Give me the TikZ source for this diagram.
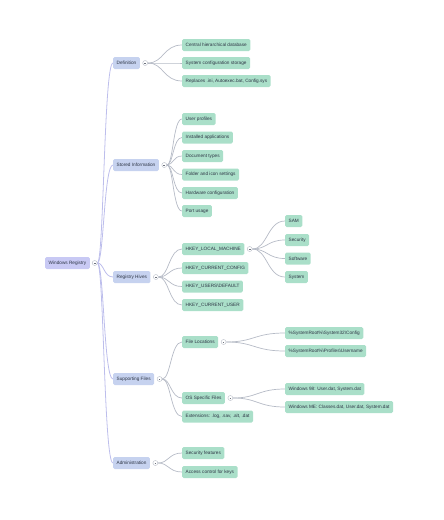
\documentclass[tikz,border=0pt]{standalone}
\usepackage{fontspec}
\setmainfont{Liberation Sans}
\usetikzlibrary{calc,positioning,backgrounds}
\definecolor{rootc}{HTML}{C8C9F4}
\definecolor{lvlc}{HTML}{C6D2EF}
\definecolor{leafc}{HTML}{AADFC9}
\definecolor{txtc}{HTML}{2E3646}
\definecolor{edgec}{HTML}{B6BBC6}
\definecolor{redgec}{HTML}{BDBEEC}
\begin{document}
\begin{tikzpicture}[x=1pt,y=-1pt,
  box/.style={rounded corners=1.5pt,minimum height=12pt,inner xsep=3.5pt,inner ysep=0pt,
    font=\fontsize{4.7}{5.5}\selectfont,text=txtc,anchor=west},
  rootbox/.style={box,fill=rootc},
  lvlbox/.style={box,fill=lvlc},
  leaf/.style={box,fill=leafc},
  tog/.style={circle,draw=edgec,fill=white,line width=0.4pt,minimum size=5pt,inner sep=0pt,
    path picture={\draw[txtc!70,line width=0.3pt] ([xshift=-0.8pt]path picture bounding box.center) -- ([xshift=0.8pt]path picture bounding box.center);}},
  conn/.style={line width=0.7pt,draw=edgec,to path={let \p1=(\tikztostart),\p2=(\tikztotarget),\p3=($(\p1)!0.5!(\p2)$) in .. controls (\x3,\y1) and (\x3,\y2) .. (\tikztotarget)}},
  rconn/.style={conn,draw=redgec,line width=0.8pt}]
\useasboundingbox (0,0) rectangle (444,520);
% root
\node[rootbox] (root) at (45,263) {Windows Registry};
\node[tog,right=2pt of root] (rootc) {};
% level 1
\node[lvlbox] (def) at (113,63) {Definition};
\node[tog,right=2.5pt of def] (defc) {};
\node[lvlbox] (sto) at (113,165) {Stored Information};
\node[tog,right=2.5pt of sto] (stoc) {};
\node[lvlbox] (hiv) at (113,277) {Registry Hives};
\node[tog,right=2.5pt of hiv] (hivc) {};
\node[lvlbox] (sup) at (113,379) {Supporting Files};
\node[tog,right=2.5pt of sup] (supc) {};
\node[lvlbox] (adm) at (113,463) {Administration};
\node[tog,right=2.5pt of adm] (admc) {};
% definition
\node[leaf] (d1) at (182,45) {Central hierarchical database};
\node[leaf] (d2) at (182,63) {System configuration storage};
\node[leaf] (d3) at (182,81) {Replaces .ini, Autoexec.bat, Config.sys};
% stored
\node[leaf] (s1) at (182,119) {User profiles};
\node[leaf] (s2) at (182,137.5) {Installed applications};
\node[leaf] (s3) at (182,156) {Document types};
\node[leaf] (s4) at (182,174.5) {Folder and icon settings};
\node[leaf] (s5) at (182,193) {Hardware configuration};
\node[leaf] (s6) at (182,211) {Port usage};
% hives
\node[leaf] (h1) at (182,249) {HKEY\_LOCAL\_MACHINE};
\node[tog,right=2.5pt of h1] (h1c) {};
\node[leaf] (h2) at (182,268) {HKEY\_CURRENT\_CONFIG};
\node[leaf] (h3) at (182,286.5) {HKEY\_USERS\textbackslash DEFAULT};
\node[leaf] (h4) at (182,305) {HKEY\_CURRENT\_USER};
\node[leaf] (k1) at (285,221) {SAM};
\node[leaf] (k2) at (285,240) {Security};
\node[leaf] (k3) at (285,258.5) {Software};
\node[leaf] (k4) at (285,277) {System};
% supporting
\node[leaf] (f1) at (182,342) {File Locations};
\node[tog,right=2.5pt of f1] (f1c) {};
\node[leaf] (f2) at (182,398) {OS Specific Files};
\node[tog,right=2.5pt of f2] (f2c) {};
\node[leaf] (f3) at (182,416.5) {Extensions: .log, .sav, .alt, .dat};
\node[leaf] (l1) at (285,333) {\%SystemRoot\%\textbackslash System32\textbackslash Config};
\node[leaf] (l2) at (285,351) {\%SystemRoot\%\textbackslash Profiles\textbackslash Username};
\node[leaf] (o1) at (285,389) {Windows 98: User.dat, System.dat};
\node[leaf] (o2) at (285,407) {Windows ME: Classes.dat, User.dat, System.dat};
% admin
\node[leaf] (a1) at (182,453) {Security features};
\node[leaf] (a2) at (182,472) {Access control for keys};
\begin{scope}[on background layer]
\foreach \t in {def,sto,hiv,sup,adm} \draw[rconn] (rootc) to (\t.west);
\foreach \t in {d1,d2,d3} \draw[conn] (defc) to (\t.west);
\foreach \t in {s1,s2,s3,s4,s5,s6} \draw[conn] (stoc) to (\t.west);
\foreach \t in {h1,h2,h3,h4} \draw[conn] (hivc) to (\t.west);
\foreach \t in {k1,k2,k3,k4} \draw[conn] (h1c) to (\t.west);
\foreach \t in {f1,f2,f3} \draw[conn] (supc) to (\t.west);
\foreach \t in {l1,l2} \draw[conn] (f1c) to (\t.west);
\foreach \t in {o1,o2} \draw[conn] (f2c) to (\t.west);
\foreach \t in {a1,a2} \draw[conn] (admc) to (\t.west);
\end{scope}
\end{tikzpicture}
\end{document}
